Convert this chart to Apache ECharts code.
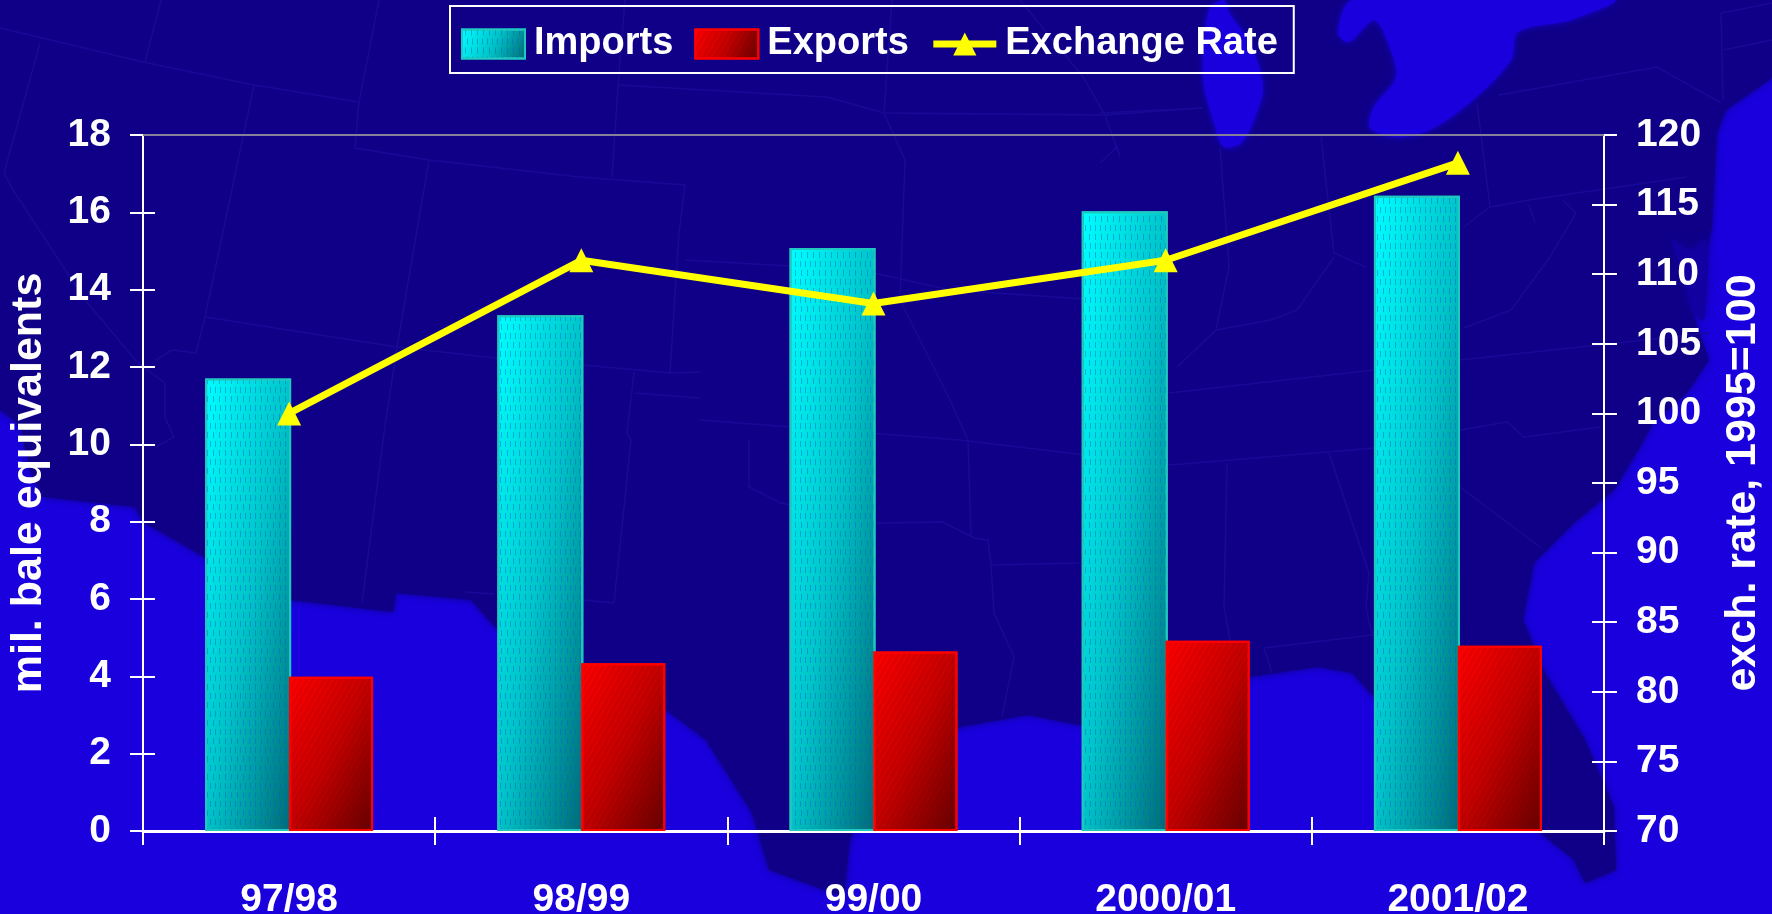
<!DOCTYPE html>
<html><head><meta charset="utf-8">
<style>html,body{margin:0;padding:0;background:#1900dc}#c{width:1772px;height:914px}</style>
<script src="https://cdn.jsdelivr.net/npm/echarts@6/dist/echarts.min.js"></script>
</head><body><div id="c"></div>
<script>
var categories = ['97/98','98/99','99/00','2000/01','2001/02'];
var imports = [11.7,13.34,15.08,16.03,16.43];
var exportsData = [3.99,4.34,4.64,4.92,4.79];
var exchangeRate = [100,111,107.9,111,118];

// Decorative backdrop: the faint map behind the chart.
var landShape = [[0,0],[1772,0],[1772,78],[1726,110],[1717,133],[1712,227],[1694,317],[1709,360],[1687,393],[1653,423],[1640,447],[1614,490],[1574,523],[1534,563],[1523,620],[1545,673],[1585,740],[1614,807],[1616,870],[1585,883],[1574,860],[1543,835],[1500,770],[1374,697],[1352,673],[1318,667],[1250,677],[1160,705],[1079,725],[1028,715],[960,727],[870,790],[850,840],[844,897],[769,870],[758,833],[752,813],[706,740],[666,710],[590,670],[495,627],[471,600],[396,593],[393,612],[290,600],[204,557],[143,522],[135,507],[43,497],[30,470],[20,425],[0,410]];
var lakeA = [[1224,0],[1209,10],[1203,77],[1214,123],[1224,147],[1241,143],[1254,120],[1263,87],[1250,43],[1229,13]];
var lakeB = [[1353,0],[1338,33],[1349,42],[1374,20],[1387,40],[1396,77],[1374,107],[1370,128],[1396,137],[1430,130],[1473,100],[1511,60],[1518,32],[1571,20],[1614,0]];
var bay = [[1672,240],[1690,250],[1706,240],[1704,320],[1692,312],[1684,275]];
var borders = [
[[0,28],[143,62],[254,85],[359,102]],[[161,0],[145,62]],
[[40,43],[4,173],[13,190],[85,300],[138,363],[165,383],[165,417],[174,437],[156,447]],
[[379,0],[359,102],[355,148],[429,160],[580,177],[685,185],[679,233],[670,373]],
[[254,85],[205,317],[196,353],[172,350],[156,360]],[[429,160],[397,347],[384,433],[362,603]],
[[205,317],[397,347],[495,358],[583,365],[670,373],[700,372]],
[[634,372],[627,433],[631,440],[614,603],[583,600]],[[634,393],[700,398]],[[465,592],[494,594]],
[[625,0],[618,87],[612,177]],[[618,85],[827,97],[884,113],[1105,115],[1202,108]],
[[892,0],[884,113],[905,160],[900,300],[950,400],[968,440],[971,537]],
[[1020,0],[1083,77],[1105,115],[1120,157],[1117,147],[1100,163]],
[[685,260],[860,270],[950,290],[1100,300]],[[700,420],[960,440],[1170,465],[1375,448]],
[[749,440],[749,487],[781,503],[878,523],[943,522],[974,538],[988,540],[991,565],[1079,563]],
[[991,565],[994,613],[1014,657],[1002,717]],
[[1227,463],[1224,607],[1230,640],[1225,680]],[[1264,648],[1372,635],[1460,620]],[[1264,648],[1272,673]],
[[1329,453],[1369,573],[1366,607],[1372,635]],[[1460,487],[1540,547]],
[[1499,95],[1657,67],[1721,103]],[[1477,103],[1490,207],[1529,200],[1687,177]],[[1490,207],[1464,227]],
[[1529,205],[1535,223]],[[1563,200],[1576,213],[1550,257],[1511,310],[1464,328]],[[1460,360],[1709,333]],
[[1220,147],[1229,267],[1216,330],[1177,367]],[[1321,137],[1334,253],[1366,267]],[[1334,257],[1297,310],[1271,320],[1216,330]],
[[1169,393],[1374,370]],[[1460,430],[1507,422],[1524,437],[1601,427]],
[[1721,13],[1772,3]],[[1724,50],[1772,40]],[[1721,13],[1723,100]],[[1100,113],[1203,108]]
];

var FONT = '"Liberation Sans", Arial, sans-serif';
var LAND = '#0f0087', WATER = '#1900dc', EDGE = '#180a96';

var backdrop = [{type:'polygon', silent:true, z:-10, shape:{points:landShape},
  style:{fill:LAND, shadowBlur:6, shadowColor:LAND}}];
[lakeA, lakeB].forEach(function(p){
  backdrop.push({type:'polygon', silent:true, z:-9, shape:{points:p, smooth:0.3},
    style:{fill:WATER, shadowBlur:6, shadowColor:WATER}});
});
backdrop.push({type:'polygon', silent:true, z:-9, shape:{points:bay, smooth:0.3},
  style:{fill:'#1300a0', shadowBlur:8, shadowColor:'#1300a0'}});
borders.forEach(function(p){
  backdrop.push({type:'polyline', silent:true, z:-8, shape:{points:p},
    style:{fill:null, stroke:EDGE, lineWidth:1.5}});
});

// A corner-to-corner gradient: the vector is chosen so the middle colour runs
// through the other two corners of a tall narrow bar.
function grad(a,b,c,value,unit,barW){
  var h = Math.max(value*unit,1), w = barW, k = h*h + w*w;
  return {type:'linear', x:0, y:0, x2:2*h*h/k, y2:2*w*w/k,
    colorStops:[{offset:0,color:a},{offset:.5,color:b},{offset:1,color:c}]};
}
var UNIT = 696/18;
var IMP = ['#00ffff','#00c4c8','#006a76'], EXP = ['#ff0000','#c40000','#640000'];
function barItems(vals,c,w){
  return vals.map(function(v){
    return {value:v, itemStyle:{color:grad(c[0],c[1],c[2],v,UNIT,w)}};
  });
}
var labelStyle = {color:'#fff', fontFamily:FONT, fontWeight:'bold', fontSize:39, padding:[8,0,0,0]};
var nameStyle = {color:'#fff', fontFamily:FONT, fontWeight:'bold', fontSize:43};
var lineW = {lineStyle:{color:'#fff', width:2}};
var swatch = function(c){return {type:'linear',x:0,y:0,x2:1,y2:1,colorStops:[{offset:0,color:c[0]},{offset:.5,color:c[1]},{offset:1,color:c[2]}]};};

var option = {
  animation:false,
  backgroundColor:WATER,
  graphic:{elements:backdrop},
  legend:{
    left:450, top:6, orient:'horizontal',
    padding:[19,16,10,11], itemGap:21, itemWidth:63, itemHeight:29,
    borderColor:'#fff', borderWidth:2, backgroundColor:'transparent',
    data:[{name:'Imports',icon:'rect'},{name:'Exports',icon:'rect'},
      {name:'Exchange Rate',lineStyle:{width:7,color:'#ffff00'}}],
    textStyle:{color:'#fff', fontFamily:FONT, fontWeight:'bold', fontSize:38, padding:[6,0,0,4]}
  },
  grid:{left:143, right:168, top:135, bottom:83, containLabel:false, outerBoundsMode:'none'},
  xAxis:[
    {type:'category', data:categories, position:'bottom',
     axisLine:{show:true,onZero:false,lineStyle:{color:'#fff',width:3}},
     axisTick:{show:true,length:14,lineStyle:{color:'#fff',width:2}},
     axisLabel:Object.assign({},labelStyle,{margin:42,interval:0})},
    {type:'category', data:categories, position:'bottom',
     axisLine:{show:false}, axisLabel:{show:false},
     axisTick:{show:true,inside:true,length:14,lineStyle:{color:'#fff',width:2}}}
  ],
  yAxis:[
    {type:'value', position:'left', min:0, max:18, interval:2,
     name:'mil. bale equivalents', nameLocation:'middle', nameGap:92, nameRotate:90, nameTextStyle:nameStyle,
     axisLine:Object.assign({show:true},lineW), splitLine:{show:false},
     axisTick:Object.assign({show:true,length:13},lineW),
     axisLabel:Object.assign({},labelStyle,{margin:32})},
    {type:'value', position:'right', min:70, max:120, interval:5,
     name:'exch. rate, 1995=100', nameLocation:'middle', nameGap:118, nameRotate:90, nameTextStyle:nameStyle,
     axisLine:Object.assign({show:true},lineW), splitLine:{show:false},
     axisTick:Object.assign({show:true,length:13},lineW),
     axisLabel:Object.assign({},labelStyle,{margin:32})},
    {type:'value', position:'left', min:0, max:18, interval:2,
     axisLine:{show:false}, axisLabel:{show:false}, splitLine:{show:false},
     axisTick:Object.assign({show:true,inside:true,length:12},lineW)},
    {type:'value', position:'right', min:70, max:120, interval:5,
     axisLine:{show:false}, axisLabel:{show:false}, splitLine:{show:false},
     axisTick:Object.assign({show:true,inside:true,length:12},lineW)}
  ],
  series:[
    {name:'Imports', type:'bar', data:barItems(imports,IMP,86), barWidth:86, barGap:'-2.4%',
     itemStyle:{color:swatch(IMP), borderColor:'#1fc9c0', borderWidth:2,
       decal:{symbol:'rect', symbolSize:1, dashArrayX:[[1,4],[0,2.5,1,1.5]], dashArrayY:[6,3], color:'rgba(0,90,210,0.42)'}},
     markLine:{silent:true, symbol:'none', label:{show:false},
       lineStyle:{color:'#85809a', width:2, type:'solid'}, data:[{yAxis:18}]}},
    {name:'Exports', type:'bar', data:barItems(exportsData,EXP,84), barWidth:84,
     itemStyle:{color:swatch(EXP), borderColor:'#ff0000', borderWidth:2,
       decal:{symbol:'rect', symbolSize:1, dashArrayX:[1,0], dashArrayY:[1,4], rotation:-Math.PI/3, color:'rgba(90,0,0,0.2)'}}},
    {name:'Exchange Rate', type:'line', yAxisIndex:1, data:exchangeRate,
     symbol:'triangle', symbolSize:24,
     lineStyle:{color:'#ffff00', width:7}, itemStyle:{color:'#ffff00'}, z:5}
  ]
};
var chart = echarts.init(document.getElementById('c'), null, {renderer:'canvas', width:1772, height:914});
chart.setOption(option);
</script></body></html>
